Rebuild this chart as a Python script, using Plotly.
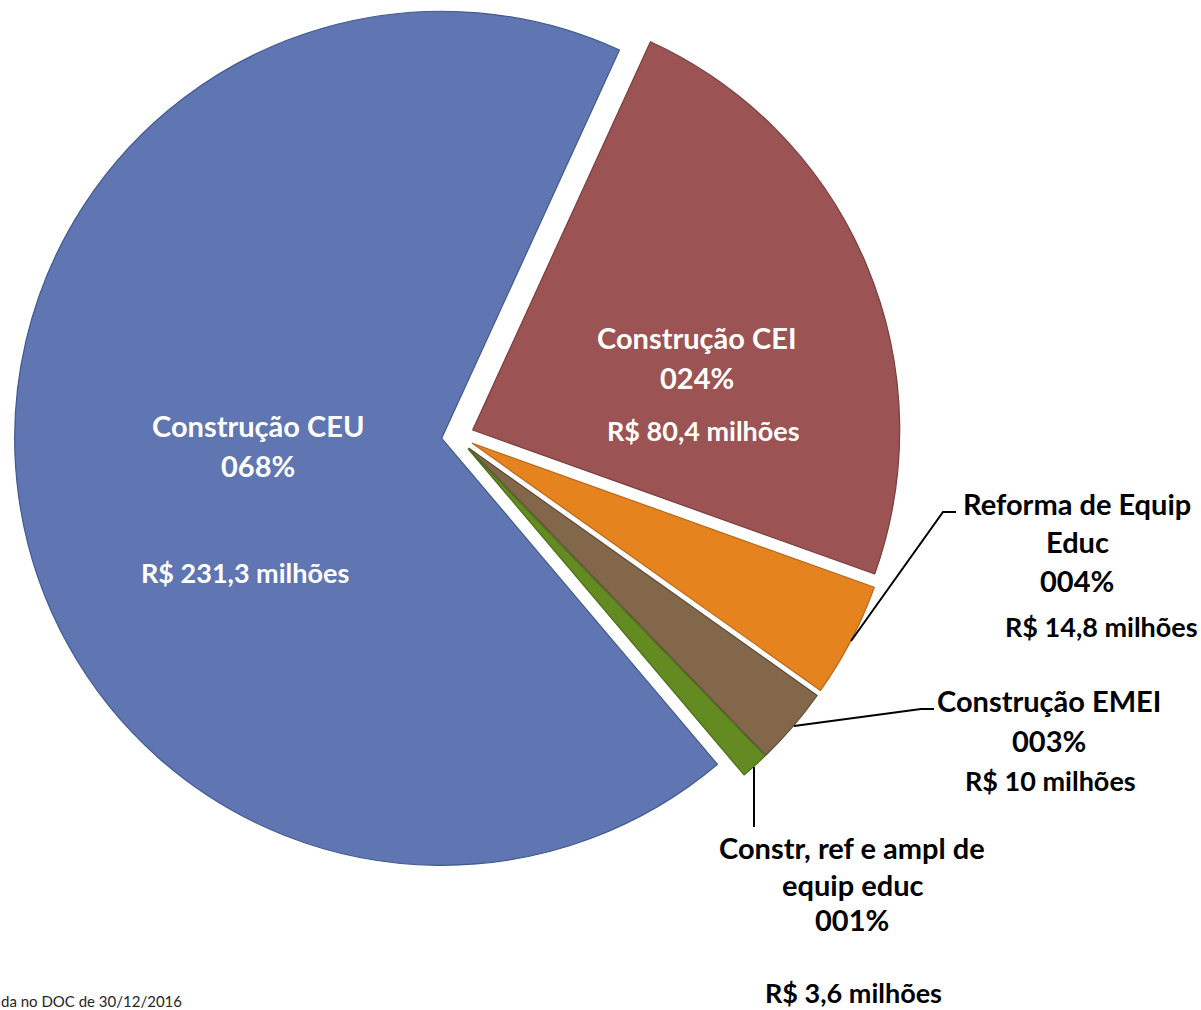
import plotly.graph_objects as go

W, H = 1201, 1010

# ---- data ----
categories = ["Construção CEI", "Reforma de Equip Educ", "Construção EMEI",
              "Constr, ref e ampl de equip educ", "Construção CEU"]
values = [80.4, 14.8, 10.0, 3.6, 231.3]
value_labels = ["R$ 80,4 milhões", "R$ 14,8 milhões", "R$ 10 milhões",
                "R$ 3,6 milhões", "R$ 231,3 milhões"]
label_lines = [["Construção CEI"], ["Reforma de Equip", "Educ"], ["Construção EMEI"],
               ["Constr, ref e ampl de", "equip educ"], ["Construção CEU"]]
footnote = "da no DOC de 30/12/2016"

# ---- style ----
colors = ["#9C5353", "#E5831F", "#82674A", "#638B22", "#5F76B2"]
edge_colors = ["#7A3C3C", "#B9681A", "#604B35", "#4A6B18", "#41598F"]
text_colors = ["white", "black", "black", "black", "white"]
R = 427
# exploded centres of each slice (pixels)
centers = [(472.7, 430.0), (472.3, 443.3), (469.0, 448.3), (468.3, 449.0), (441.7, 438.3)]
# label line anchor positions (pixels): name lines, percent, value
label_pos = [
    {"name": [(697, 337)], "pct": (697, 377), "val": (703, 431)},
    {"name": [(1077, 503), (1077, 541)], "pct": (1077, 580), "val": (1101, 626)},
    {"name": [(1049, 700)], "pct": (1049, 740), "val": (1050, 780)},
    {"name": [(852, 847), (852, 884)], "pct": (852, 919), "val": (853, 992)},
    {"name": [(258, 426)], "pct": (258, 466), "val": (245, 572)},
]
leaders = [
    None,
    [(851, 641), (943, 512), (956, 512)],
    [(794, 726), (921, 709), (934, 709)],
    [(754, 767), (754, 827)],
    None,
]

FONT = "Lato"
NAME_SIZE = 29
VAL_SIZE = 27


def px(x):
    return x / W


def py(y):
    return 1 - y / H


total = sum(values)
fig = go.Figure()
transparent = "rgba(0,0,0,0)"
for i in range(len(values)):
    cx, cy = centers[i]
    fcol = [colors[j] if j == i else transparent for j in range(len(values))]
    lcol = [edge_colors[j] if j == i else transparent for j in range(len(values))]
    fig.add_trace(go.Pie(
        labels=categories, values=values, sort=False, direction="clockwise",
        rotation=24.6, textinfo="none", hoverinfo="skip", showlegend=False,
        marker=dict(colors=fcol, line=dict(color=lcol, width=1.2)),
        domain=dict(x=[px(cx - R), px(cx + R)], y=[py(cy + R), py(cy - R)]),
    ))

annotations = []
for i, v in enumerate(values):
    pct = f"{round(v / total * 100):03d}%"
    pos = label_pos[i]
    col = text_colors[i]
    for line, (x, y) in zip(label_lines[i], pos["name"]):
        annotations.append(dict(text=f"<b>{line}</b>", x=px(x), y=py(y), xref="paper", yref="paper",
                                showarrow=False, xanchor="center", yanchor="middle", borderpad=0,
                                font=dict(family=FONT, size=NAME_SIZE, color=col)))
    x, y = pos["pct"]
    annotations.append(dict(text=f"<b>{pct}</b>", x=px(x), y=py(y), xref="paper", yref="paper",
                            showarrow=False, xanchor="center", yanchor="middle", borderpad=0,
                            font=dict(family=FONT, size=NAME_SIZE, color=col)))
    x, y = pos["val"]
    annotations.append(dict(text=f"<b>{value_labels[i]}</b>", x=px(x), y=py(y), xref="paper", yref="paper",
                            showarrow=False, xanchor="center", yanchor="middle", borderpad=0,
                            font=dict(family=FONT, size=VAL_SIZE, color=col)))

annotations.append(dict(text=footnote, x=0, y=py(1001), xref="paper", yref="paper", showarrow=False,
                        xanchor="left", yanchor="middle", borderpad=0,
                        font=dict(family=FONT, size=15, color="#262626")))

shapes = []
for pts in leaders:
    if not pts:
        continue
    path = "M " + " L ".join(f"{px(x)},{py(y)}" for x, y in pts)
    shapes.append(dict(type="path", path=path, xref="paper", yref="paper",
                       line=dict(color="black", width=2)))

fig.update_layout(
    width=W, height=H, margin=dict(l=0, r=0, t=0, b=0),
    paper_bgcolor="white", plot_bgcolor="white",
    annotations=annotations, shapes=shapes, showlegend=False,
)

fig.write_html(
    "out.html",
    config={"displayModeBar": False},
    post_script="document.body.style.margin='0px';document.body.style.overflow='hidden';",
)
